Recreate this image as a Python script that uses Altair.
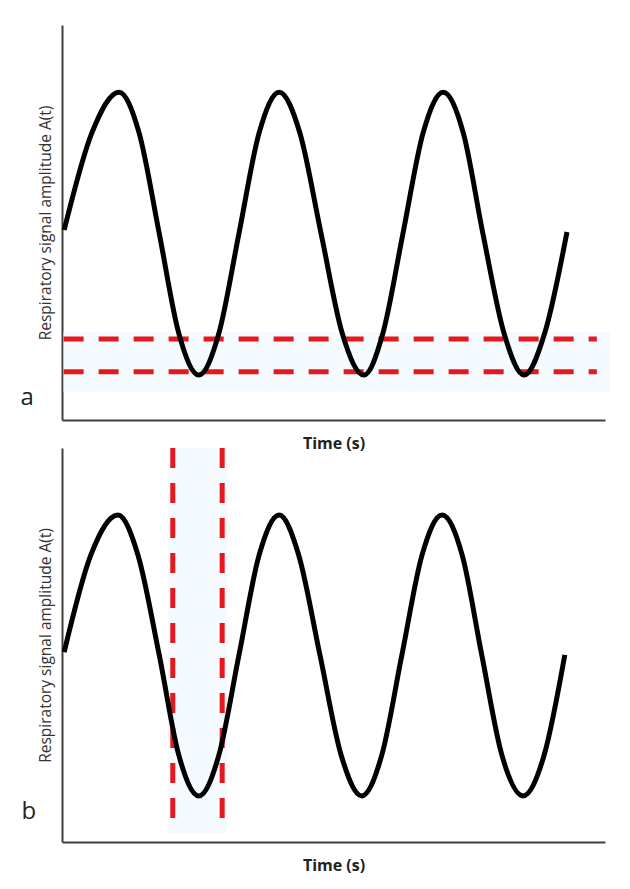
import altair as alt
import pandas as pd

# ---- data (time / amplitude in arbitrary units) ----
t_a = [0.4, 5.5, 10.5, 14.2, 17.9, 21.5, 25.2, 28.9, 32.6, 36.3, 40.0, 43.8, 47.7,
       51.6, 55.6, 59.1, 62.8, 66.5, 70.2, 73.9, 77.5, 81.4, 85.1, 88.9, 93.0]
amp_a = [48.1, 72.7, 83.0, 72.7, 47.3, 22.0, 11.4, 22.0, 47.3, 72.7, 83.0, 72.7, 47.3,
         22.0, 11.4, 22.0, 47.3, 72.7, 83.0, 72.7, 47.3, 22.0, 11.4, 22.0, 47.6]

t_b = [0.4, 5.3, 10.3, 14.0, 17.9, 21.5, 25.2, 28.9, 32.6, 36.3, 40.0, 43.6, 47.5,
       51.4, 55.2, 58.9, 62.6, 66.3, 70.0, 73.7, 77.3, 81.0, 84.9, 88.8, 92.6]
amp_b = [48.2, 72.8, 83.0, 72.8, 47.5, 22.1, 11.7, 22.1, 47.5, 72.8, 83.0, 72.8, 47.5,
         22.1, 11.7, 22.1, 47.5, 72.8, 83.0, 72.8, 47.5, 22.1, 11.7, 22.1, 47.5]

# panel a: amplitude thresholds (horizontal dashed lines) and shaded band
thr_a = [20.5, 12.2]
band_a = [7.1, 22.3]
thr_span = [0.3, 98.5]
band_a_span = [0.3, 101.0]

# panel b: time window (vertical dashed lines) and shaded band
win_b = [20.4, 29.5]
band_b = [19.5, 30.4]
win_span = [100.0, 2.3]   # drawn from the top down

panel_labels = ["a", "b"]
label_x = [-6.4, -6.1]
label_y = [5.6, 7.6]

X_TITLE = "Time (s)"
Y_TITLE = "Respiratory signal amplitude A(t)"

RED = "#e3191f"
BAND = "#f4fafd"

xs = alt.Scale(domain=[0, 100], nice=False, zero=False)
ys = alt.Scale(domain=[0, 100], nice=False, zero=False)

xax = alt.Axis(title=X_TITLE, labels=False, ticks=False, grid=False,
               titlePadding=15, titleFont="Open Sans", titleFontSize=16,
               titleFontWeight="bold", titleColor="#222222",
               domainColor="#404040", domainWidth=2)
yax = alt.Axis(title=Y_TITLE, labels=False, ticks=False, grid=False,
               titlePadding=9, titleFont="Open Sans", titleFontSize=15.5,
               titleFontWeight="normal", titleColor="#333333",
               domainColor="#404040", domainWidth=2)


def panel(t, amp, label_i, band_df, band_enc, rule_df, rule_enc, h):
    wave_df = pd.DataFrame({"t": t, "amp": amp})
    band = alt.Chart(band_df).mark_rect(color=BAND).encode(**band_enc)
    rules = alt.Chart(rule_df).mark_rule(color=RED, strokeWidth=5,
                                         strokeDash=[20, 15]).encode(**rule_enc)
    wave = alt.Chart(wave_df).mark_line(color="black", strokeWidth=5,
                                        interpolate="monotone").encode(
        x=alt.X("t:Q", scale=xs, axis=xax),
        y=alt.Y("amp:Q", scale=ys, axis=yax),
    )
    lab_df = pd.DataFrame({"lx": [label_x[label_i]], "ly": [label_y[label_i]],
                           "txt": [panel_labels[label_i]]})
    lab = alt.Chart(lab_df).mark_text(font="Open Sans", fontSize=24, color="#222222",
                                      align="center", baseline="middle").encode(
        x=alt.X("lx:Q", scale=xs), y=alt.Y("ly:Q", scale=ys), text="txt:N")
    return alt.layer(band, rules, wave, lab).properties(width=543, height=h)


band_a_df = pd.DataFrame({"x0": [band_a_span[0]], "x1": [band_a_span[1]],
                          "y0": [band_a[0]], "y1": [band_a[1]]})
rule_a_df = pd.DataFrame({"y": thr_a, "x0": [thr_span[0]] * 2, "x1": [thr_span[1]] * 2})
pa = panel(t_a, amp_a, 0, band_a_df,
           dict(x=alt.X("x0:Q", scale=xs), x2="x1:Q",
                y=alt.Y("y0:Q", scale=ys), y2="y1:Q"),
           rule_a_df,
           dict(y=alt.Y("y:Q", scale=ys), x=alt.X("x0:Q", scale=xs), x2="x1:Q"),
           395)

band_b_df = pd.DataFrame({"x0": [band_b[0]], "x1": [band_b[1]],
                          "y0": [win_span[0]], "y1": [win_span[1]]})
rule_b_df = pd.DataFrame({"x": win_b, "y0": [win_span[0]] * 2, "y1": [win_span[1]] * 2})
pb = panel(t_b, amp_b, 1, band_b_df,
           dict(x=alt.X("x0:Q", scale=xs), x2="x1:Q",
                y=alt.Y("y0:Q", scale=ys), y2="y1:Q"),
           rule_b_df,
           dict(x=alt.X("x:Q", scale=xs), y=alt.Y("y0:Q", scale=ys), y2="y1:Q"),
           394)

chart = alt.vconcat(pa, pb, spacing=28, bounds="flush").resolve_scale(
    x="independent", y="independent"
).properties(
    padding={"left": 12, "top": 17, "right": 5, "bottom": 5},
    background="white",
).configure_view(stroke=None)

chart.save("out.html", embed_options={"renderer": "svg", "actions": False})
